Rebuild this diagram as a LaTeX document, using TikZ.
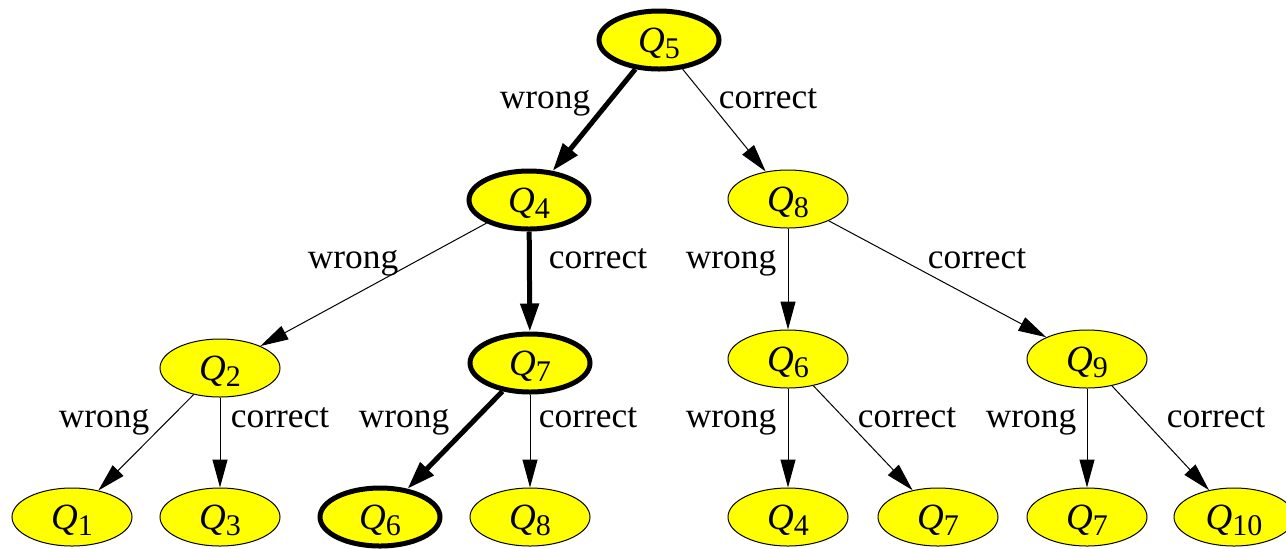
\documentclass[tikz,border=0pt]{standalone}
\usepackage{fontspec}
\setmainfont{Liberation Serif}
\usetikzlibrary{arrows.meta,shapes.geometric}
\definecolor{qyellow}{RGB}{255,255,0}
% question label: italic Q with a lowered index
\newcommand\qlab[1]{{\fontsize{18.5}{20}\selectfont\textit{Q}}\raisebox{-3pt}{\fontsize{15}{15}\selectfont #1}}
\begin{document}
\begin{tikzpicture}[x=0.5pt,y=-0.5pt,
  every node/.style={font=\fontsize{17.7}{20}\selectfont},
  state/.style={ellipse, draw, fill=qyellow, line width=0.5pt,
    minimum width=60pt, minimum height=29pt, inner sep=0pt,
    text height=12pt, text depth=0pt},
  hot/.style={line width=2.5pt},
  edge/.style={line width=0.5pt, -{Triangle[length=14pt,width=7.5pt]}},
  hotedge/.style={line width=2.5pt, -{Triangle[length=14pt,width=9pt]}},
  lbl/.style={anchor=base, inner sep=0pt}]
\useasboundingbox (0,0) rectangle (1286,548);

% root
\node[state,hot] (q5) at (659,40) {\qlab{5}};
% first level
\node[state,hot] (q4) at (529,200) {\qlab{4}};
\node[state] (q8) at (788,199) {\qlab{8}};
% second level
\node[state] (q2) at (220,368) {\qlab{2}};
\node[state,hot] (q7) at (530,363) {\qlab{7}};
\node[state] (q6a) at (788,359) {\qlab{6}};
\node[state] (q9) at (1087,359) {\qlab{9}};
% leaves
\node[state] (q1) at (72,517) {\qlab{1}};
\node[state] (q3) at (220,517) {\qlab{3}};
\node[state,hot] (q6b) at (380,517) {\qlab{6}};
\node[state] (q8b) at (530,517) {\qlab{8}};
\node[state] (q4b) at (788,517) {\qlab{4}};
\node[state] (q7a) at (938,517) {\qlab{7}};
\node[state] (q7b) at (1087,517) {\qlab{7}};
\node[state] (q10) at (1234,517) {\qlab{10}};

% connectors
\draw[hotedge] (q5) -- (q4);
\draw[edge] (q5) -- (q8);
\draw[edge] (q4) -- (q2);
\draw[hotedge] (q4) -- (q7);
\draw[edge] (q8) -- (q6a);
\draw[edge] (q8) -- (q9);
\draw[edge] (q2) -- (q1);
\draw[edge] (q2) -- (q3);
\draw[hotedge] (q7) -- (q6b);
\draw[edge] (q7) -- (q8b);
\draw[edge] (q6a) -- (q4b);
\draw[edge] (q6a) -- (q7a);
\draw[edge] (q9) -- (q7b);
\draw[edge] (q9) -- (q10);

% edge labels
\node[lbl] (w54) at (545,108) {wrong};
\node[lbl] (c58) at (768,108) {correct};
\node[lbl] (w42) at (353,268) {wrong};
\node[lbl] (c47) at (598,268) {correct};
\node[lbl] (w86) at (731,268) {wrong};
\node[lbl] (c89) at (977,268) {correct};
\node[lbl] (w21) at (104,427) {wrong};
\node[lbl] (c23) at (280,427) {correct};
\node[lbl] (w76) at (404,427) {wrong};
\node[lbl] (c78) at (588,427) {correct};
\node[lbl] (w64) at (731,427) {wrong};
\node[lbl] (c67) at (907,427) {correct};
\node[lbl] (w97) at (1031,427) {wrong};
\node[lbl] (c910) at (1216,427) {correct};
\end{tikzpicture}
\end{document}
